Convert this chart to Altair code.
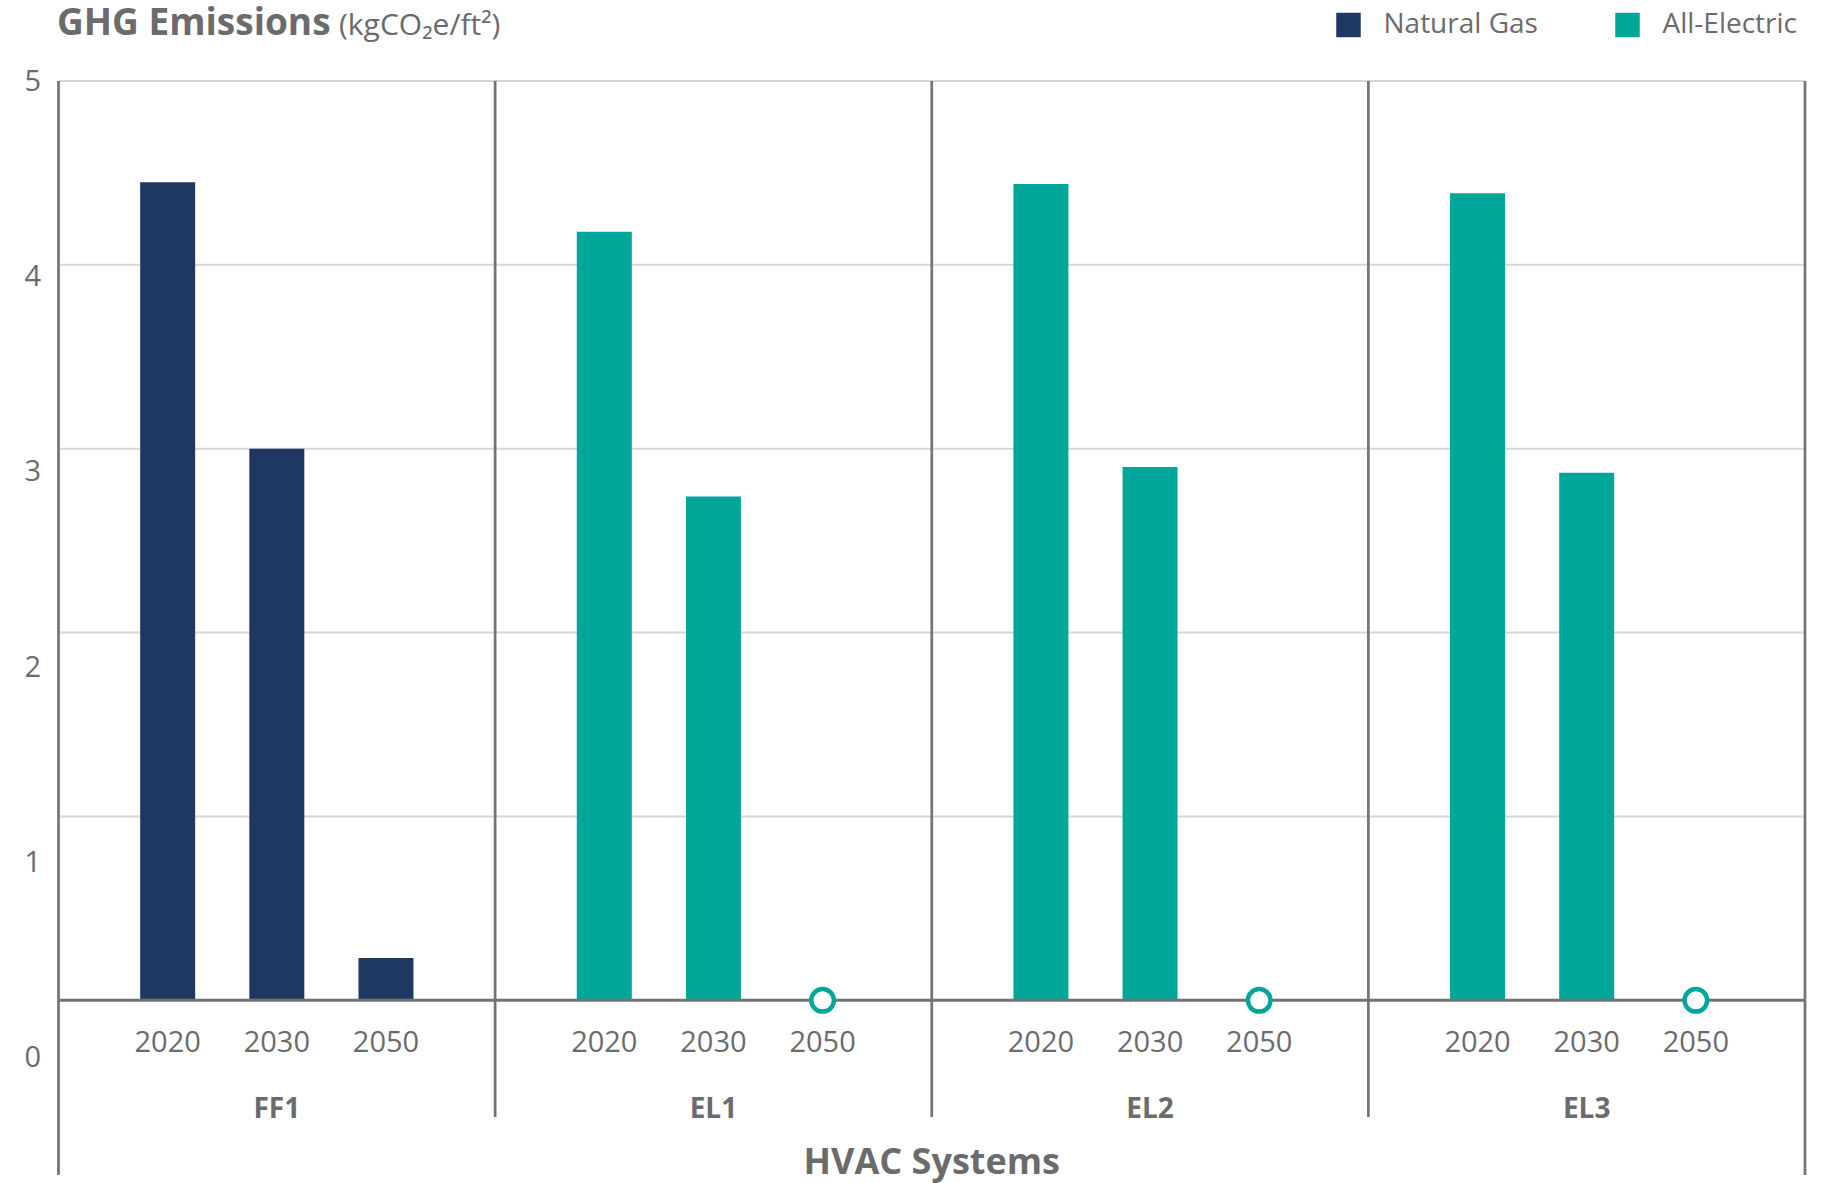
import altair as alt
import pandas as pd

# ---------------- data ----------------
groups = ["FF1", "EL1", "EL2", "EL3"]
years = ["2020", "2030", "2050"]
group_fuel = ["Natural Gas", "All-Electric", "All-Electric", "All-Electric"]
ff1_values = [4.45, 3.00, 0.23]
el1_values = [4.18, 2.74, 0.0]
el2_values = [4.44, 2.90, 0.0]
el3_values = [4.39, 2.87, 0.0]
fuel_legend = ["Natural Gas", "All-Electric"]
fuel_colors = ["#1e3861", "#00a69a"]
y_tick_values = [0, 1, 2, 3, 4, 5]
grid_values = [1, 2, 3, 4, 5]
x_title = "HVAC Systems"
y_title = "GHG Emissions"
unit_title = "(kgCO\u2082e/ft\u00b2)"

series = [ff1_values, el1_values, el2_values, el3_values]
slots_per_group = len(years) + 1
n_slots = slots_per_group * len(groups)

rows = []
for gi, (g, vals) in enumerate(zip(groups, series)):
    for yi, (yr, v) in enumerate(zip(years, vals)):
        rows.append({"group": g, "year": yr, "fuel": group_fuel[gi], "value": v,
                     "slot": gi * slots_per_group + yi + 1})
df = pd.DataFrame(rows)
group_df = pd.DataFrame({"group": groups,
                         "slot": [gi * slots_per_group + slots_per_group / 2 for gi in range(len(groups))]})
inner_df = pd.DataFrame({"slot": [gi * slots_per_group for gi in range(1, len(groups))]})
outer_df = pd.DataFrame({"slot": [0, n_slots]})
grid_df = pd.DataFrame({"v": grid_values})
zero_df = pd.DataFrame({"v": [0]})
tick_df = pd.DataFrame({"v": y_tick_values})
xtitle_df = pd.DataFrame({"label": [x_title], "slot": [n_slots / 2]})

# ---------------- style ----------------
FONT = "Open Sans"
TXT = "#6b6b6b"
LINE = "#737373"
W, H = 1746.5, 1094
Y_MIN = -0.95

xs = alt.Scale(domain=[0, n_slots], nice=False, zero=False, padding=0)
ys = alt.Scale(domain=[Y_MIN, 5], nice=False, zero=False, padding=0)
ys_lab = alt.Scale(domain=[-0.6, 5], nice=False, zero=False, padding=0)

# one shared (identical) x axis for every layer: carries only the unit title
x_axis = alt.Axis(orient="top", labels=False, ticks=False, domain=False, grid=False,
                  title=unit_title, titleX=280, titleY=-47, titleAngle=0,
                  titleAlign="left", titleBaseline="alphabetic", titleFont=FONT,
                  titleFontSize=30, titleFontWeight="normal", titleColor=TXT)

grid = alt.Chart(grid_df).mark_rule(color="#d6d6d6", strokeWidth=2).encode(
    y=alt.Y("v:Q", scale=ys, axis=None),
    x=alt.XDatum(0, scale=xs, axis=x_axis),
    x2=alt.X2Datum(n_slots),
)

bars = alt.Chart(df).transform_filter("datum.value > 0").mark_bar(size=55).encode(
    x=alt.X("slot:Q", scale=xs, axis=x_axis),
    y=alt.Y("value:Q", scale=ys, axis=None),
    y2=alt.Y2Datum(0),
    color=alt.Color("fuel:N", scale=alt.Scale(domain=fuel_legend, range=fuel_colors),
                    legend=alt.Legend(orient="none", legendX=1276, legendY=-70,
                                      direction="horizontal", title=None, symbolType="square",
                                      symbolSize=600, symbolStrokeWidth=0, labelFont=FONT,
                                      labelFontSize=28, labelColor=TXT, labelOffset=21,
                                      columnPadding=75, labelLimit=400)),
)

baseline = alt.Chart(zero_df).mark_rule(color=LINE, strokeWidth=3).encode(
    y=alt.Y("v:Q", scale=ys, axis=None),
    x=alt.XDatum(0, scale=xs, axis=x_axis),
    x2=alt.X2Datum(n_slots),
)

outer_lines = alt.Chart(outer_df).mark_rule(color=LINE, strokeWidth=2.7).encode(
    x=alt.X("slot:Q", scale=xs, axis=x_axis),
    y=alt.YDatum(5, scale=ys, axis=None),
    y2=alt.Y2Datum(Y_MIN),
)

inner_lines = alt.Chart(inner_df).mark_rule(color=LINE, strokeWidth=2.7).encode(
    x=alt.X("slot:Q", scale=xs, axis=x_axis),
    y=alt.YDatum(5, scale=ys, axis=None),
    y2=alt.Y2Datum(-0.635),
)

circles = alt.Chart(df).transform_filter("datum.value == 0").mark_point(
    shape="circle", filled=True, fill="white", stroke=fuel_colors[1], strokeWidth=4.5,
    size=510, opacity=1).encode(
    x=alt.X("slot:Q", scale=xs, axis=x_axis),
    y=alt.Y("value:Q", scale=ys, axis=None),
)

year_text = alt.Chart(df).mark_text(font=FONT, fontSize=29, color=TXT, baseline="middle").encode(
    x=alt.X("slot:Q", scale=xs, axis=x_axis),
    y=alt.YDatum(-0.233, scale=ys, axis=None),
    text="year:N",
)

group_text = alt.Chart(group_df).mark_text(font=FONT, fontSize=28, fontWeight="bold",
                                            color=TXT, baseline="middle").encode(
    x=alt.X("slot:Q", scale=xs, axis=x_axis),
    y=alt.YDatum(-0.594, scale=ys, axis=None),
    text="group:N",
)

xtitle_text = alt.Chart(xtitle_df).mark_text(font=FONT, fontSize=36, fontWeight="bold",
                                              color=TXT, baseline="middle").encode(
    x=alt.X("slot:Q", scale=xs, axis=x_axis),
    y=alt.YDatum(-0.885, scale=ys, axis=None),
    text="label:N",
)

main = alt.layer(grid, bars, baseline, outer_lines, inner_lines, circles,
                 year_text, group_text, xtitle_text)

ylab = alt.Chart(tick_df).mark_point(opacity=0).encode(
    y=alt.Y("v:Q", scale=ys_lab,
            axis=alt.Axis(values=y_tick_values, orient="left", grid=False, ticks=False,
                          domain=False, labelFont=FONT, labelFontSize=29, labelColor=TXT,
                          labelPadding=18, title=y_title, titleFont=FONT, titleFontSize=37,
                          titleFontWeight="bold", titleColor=TXT, titleAngle=0, titleX=-2,
                          titleY=-47, titleAlign="left", titleBaseline="alphabetic")),
)

chart = alt.layer(main, ylab).resolve_scale(y="independent").properties(
    width=W, height=H,
    padding={"left": 58.5, "top": 81, "right": 29, "bottom": 8},
    autosize=alt.AutoSizeParams(type="none"),
).configure_view(stroke=None)

chart.save("out.html", embed_options={"renderer": "svg", "actions": False})
